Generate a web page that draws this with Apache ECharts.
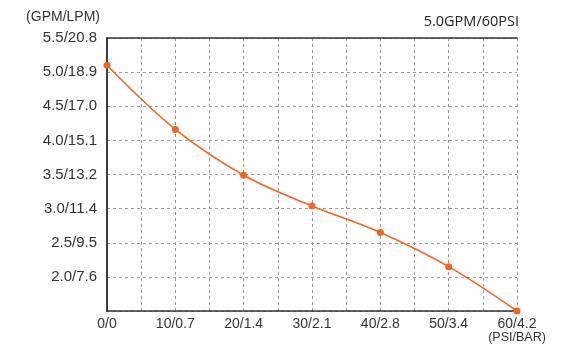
<!DOCTYPE html>
<html><head><meta charset="utf-8">
<script src="https://cdn.jsdelivr.net/npm/echarts@6/dist/echarts.min.js"></script>
<style>html,body{margin:0;padding:0;background:#fff}#c{width:575px;height:348px}</style>
</head><body><div id="c"></div>
<script>
var xValues = [0, 10, 20, 30, 40, 50, 60];
var flowValues = [5.1, 4.16, 3.49, 3.04, 2.65, 2.15, 1.5];
var xTickLabels = {0:'0/0',10:'10/0.7',20:'20/1.4',30:'30/2.1',40:'40/2.8',50:'50/3.4',60:'60/4.2'};
var yTickLabels = {'2.0':'2.0/7.6','2.5':'2.5/9.5','3.0':'3.0/11.4','3.5':'3.5/13.2','4.0':'4.0/15.1','4.5':'4.5/17.0','5.0':'5.0/18.9','5.5':'5.5/20.8'};
var titleText = '5.0GPM/60PSI';
var yUnit = '(GPM/LPM)';
var xUnit = '(PSI/BAR)';

var chart = echarts.init(document.getElementById('c'), null, {renderer:'canvas'});
var font = 'Liberation Sans, Arial, sans-serif';
var borderLine = {show:true, lineStyle:{color:'#333', width:1.5}};
chart.setOption({
  animation:false,
  title:{text:titleText, right:51, top:9, textStyle:{fontFamily:'Open Sans, sans-serif', fontWeight:'normal', fontSize:14.5, color:'#222'}},
  grid:{left:107, right:58, top:38, bottom:37},
  xAxis:[{type:'value', min:0, max:60, interval:5,
    axisLine:borderLine, axisTick:{show:false},
    splitLine:{show:true, lineStyle:{color:'#999', type:[3,3], width:1}},
    axisLabel:{margin:6, color:'#333', fontFamily:font, fontSize:14,
      formatter:function(v){ if(v===60) return xTickLabels[60]+'\n{s|'+xUnit+'}'; return xTickLabels[v]||''; },
      rich:{s:{fontSize:12.5, fontFamily:font, color:'#333', lineHeight:14}}}
  },{type:'value', position:'top', min:0, max:60, interval:5, axisLine:borderLine, axisTick:{show:false}, axisLabel:{show:false}, splitLine:{show:false}}],
  yAxis:[{type:'value', min:1.5, max:5.5, interval:0.5,
    name:yUnit, nameLocation:'end', nameGap:14, nameTextStyle:{align:'right', padding:[0,7,0,0], color:'#333', fontFamily:font, fontSize:14},
    axisLine:borderLine, axisTick:{show:false},
    splitLine:{show:true, lineStyle:{color:'#999', type:[3,3], width:1}},
    axisLabel:{margin:10, color:'#333', fontFamily:font, fontSize:15,
      formatter:function(v){ return yTickLabels[v.toFixed(1)]||''; }}
  },{type:'value', position:'right', min:1.5, max:5.5, interval:0.5, axisLine:borderLine, axisTick:{show:false}, axisLabel:{show:false}, splitLine:{show:false}}],
  series:[{type:'line', smooth:0.35, data:xValues.map(function(x,i){return [x, flowValues[i]];}),
    symbol:'circle', symbolSize:7, itemStyle:{color:'#F26522'}, lineStyle:{color:'#F26522', width:1.6}}]
});
</script></body></html>
